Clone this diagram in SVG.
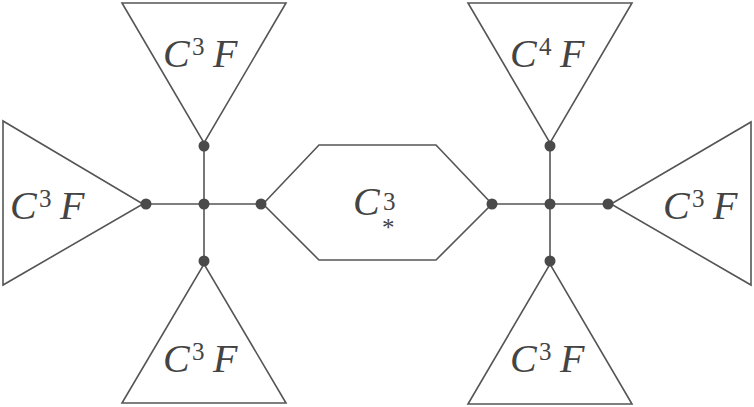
<svg xmlns="http://www.w3.org/2000/svg" width="754" height="407" viewBox="0 0 754 407">
<style>
.shape{fill:none;stroke:#555;stroke-width:1.6;stroke-linejoin:miter}
.edge{stroke:#555;stroke-width:1.6;fill:none}
.dot{fill:#4a4a4a}
.lbl{font-family:'Liberation Serif','DejaVu Serif',serif;font-style:italic;font-size:40px;fill:#444}
.sup{font-family:'Liberation Serif','DejaVu Serif',serif;font-style:normal;font-size:25px;fill:#444}
</style>
<rect width="754" height="407" fill="#fff"/>
<g id="connectors">
<line class="edge" x1="146" y1="204" x2="261" y2="204"/>
<line class="edge" x1="204" y1="146" x2="204" y2="261"/>
<line class="edge" x1="492" y1="204" x2="608" y2="204"/>
<line class="edge" x1="550" y1="146" x2="550" y2="261"/>
</g>
<g id="tri-top-left">
<polygon class="shape" points="122,3 286,3 204,143"/>
<text class="lbl" x="163" y="67">C</text><text class="sup" x="192" y="55">3</text><text class="lbl" x="213" y="67">F</text>
</g>
<g id="tri-left">
<polygon class="shape" points="3,121 3,285 143,204"/>
<text class="lbl" x="10" y="219">C</text><text class="sup" x="39" y="207">3</text><text class="lbl" x="60" y="219">F</text>
</g>
<g id="tri-bottom-left">
<polygon class="shape" points="122,403 286,403 204,264"/>
<text class="lbl" x="163" y="372">C</text><text class="sup" x="192" y="360">3</text><text class="lbl" x="213" y="372">F</text>
</g>
<g id="hexagon">
<polygon class="shape" points="263,204 319,145 436,145 492,204 436,260 319,260"/>
<text class="lbl" x="353" y="215">C</text><text class="sup" x="383" y="210">3</text><text class="sup" x="382" y="236">*</text>
</g>
<g id="tri-top-right">
<polygon class="shape" points="468,3 632,3 550,143"/>
<text class="lbl" x="510" y="67">C</text><text class="sup" x="539" y="55">4</text><text class="lbl" x="560" y="67">F</text>
</g>
<g id="tri-right">
<polygon class="shape" points="751,122 751,285 611,204"/>
<text class="lbl" x="663" y="219">C</text><text class="sup" x="692" y="207">3</text><text class="lbl" x="713" y="219">F</text>
</g>
<g id="tri-bottom-right">
<polygon class="shape" points="468,404 632,404 550,264"/>
<text class="lbl" x="510" y="372">C</text><text class="sup" x="539" y="360">3</text><text class="lbl" x="560" y="372">F</text>
</g>
<g id="junctions">
<circle class="dot" cx="204" cy="146" r="5.5"/>
<circle class="dot" cx="204" cy="204" r="5.5"/>
<circle class="dot" cx="204" cy="261" r="5.5"/>
<circle class="dot" cx="146" cy="204" r="5.5"/>
<circle class="dot" cx="261" cy="204" r="5.5"/>
<circle class="dot" cx="550" cy="146" r="5.5"/>
<circle class="dot" cx="550" cy="204" r="5.5"/>
<circle class="dot" cx="550" cy="261" r="5.5"/>
<circle class="dot" cx="492" cy="204" r="5.5"/>
<circle class="dot" cx="608" cy="204" r="5.5"/>
</g>
</svg>
